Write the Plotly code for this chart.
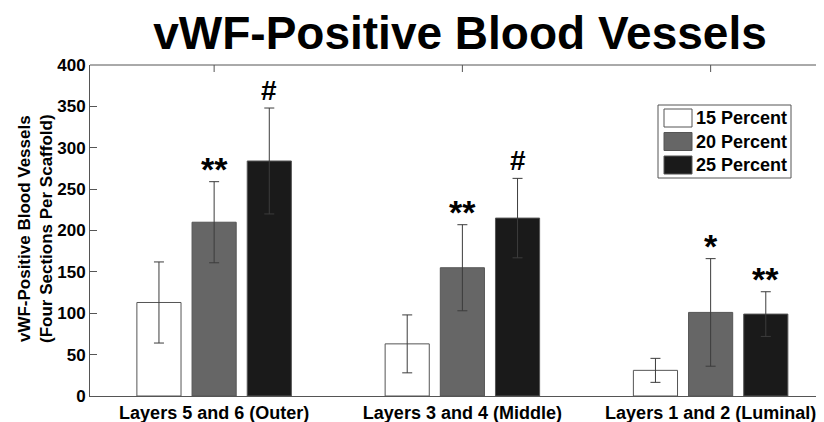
import plotly.graph_objects as go

categories = ["Layers 5 and 6 (Outer)", "Layers 3 and 4 (Middle)", "Layers 1 and 2 (Luminal)"]
series_names = ["15 Percent", "20 Percent", "25 Percent"]
vals_15 = [113, 63, 31]
vals_20 = [210, 155, 101]
vals_25 = [284, 215, 99]
err_15 = [49, 35, 14.5]
err_20 = [49, 52, 65]
err_25 = [64, 48, 27]
sig_15 = ["", "", ""]
sig_20 = ["**", "**", "*"]
sig_25 = ["#", "#", "**"]
y_ticks = [0, 50, 100, 150, 200, 250, 300, 350, 400]

fills = ["#ffffff", "#666666", "#1a1a1a"]
OFF = 8  # page body margin
W, H = 824 - OFF, 422 - OFF
ML, MT, MB = 90 - OFF, 65 - OFF, 26
FONT = "Liberation Sans, Arial, sans-serif"

fig = go.Figure()
all_vals = [vals_15, vals_20, vals_25]
all_errs = [err_15, err_20, err_25]
all_sigs = [sig_15, sig_20, sig_25]
for name, v, e, c in zip(series_names, all_vals, all_errs, fills):
    fig.add_trace(go.Bar(
        x=categories, y=v, name=name,
        marker=dict(color=c, line=dict(color="#555555", width=1)),
        error_y=dict(type="data", array=e, visible=True, color="#3c3c3c", thickness=1, width=5),
        showlegend=False,
    ))

# significance markers
slot = 2 / 9  # width of one bar slot in category units
for j, (v, e, s) in enumerate(zip(all_vals, all_errs, all_sigs)):
    for i in range(len(categories)):
        if s[i]:
            star = "*" in s[i]
            fig.add_annotation(
                x=i + (j - 1) * slot, y=v[i] + e[i], xref="x", yref="y",
                text="<b>" + s[i] + "</b>", showarrow=False,
                yanchor="bottom", yshift=(-8 if star else 0),
                font=dict(family=FONT, size=(34 if star else 28), color="black"),
            )

pw = W - ML
ph = H - MT - MB
def px(x):
    return (x - OFF - ML) / pw
def py(y):
    return (H + OFF - MB - y) / ph

shapes = []
# top border line and top ticks
shapes.append(dict(type="line", xref="paper", yref="paper", x0=0, x1=1, y0=1, y1=1,
                   line=dict(color="#555555", width=1)))
for i in range(len(categories)):
    shapes.append(dict(type="line", xref="x", yref="paper", x0=i, x1=i,
                       y0=1, y1=1 - 7 / ph, line=dict(color="#555555", width=1)))

# custom legend
shapes.append(dict(type="rect", xref="paper", yref="paper",
                   x0=px(658), x1=px(791), y0=py(178), y1=py(105),
                   line=dict(color="#555555", width=1), fillcolor="white", layer="above"))
row_c = [118, 141.5, 165]
for k, (name, c) in enumerate(zip(series_names, fills)):
    shapes.append(dict(type="rect", xref="paper", yref="paper",
                       x0=px(664), x1=px(692), y0=py(row_c[k] + 9), y1=py(row_c[k] - 9),
                       line=dict(color="#555555", width=1), fillcolor=c, layer="above"))
    fig.add_annotation(x=px(694), y=py(row_c[k]), xref="paper", yref="paper",
                       text="<b>" + name + "</b>", showarrow=False,
                       xanchor="left", yanchor="middle",
                       font=dict(family=FONT, size=18, color="black"))

# y-axis title
fig.add_annotation(x=px(35), y=py(229), xref="paper", yref="paper",
                   text="<b>vWF-Positive Blood Vessels<br>(Four Sections Per Scaffold)</b>",
                   showarrow=False, textangle=-90, xanchor="center", yanchor="middle",
                   font=dict(family=FONT, size=17, color="black"))

fig.update_layout(
    width=W, height=H,
    margin=dict(l=ML, r=0, t=MT, b=MB, autoexpand=False),
    paper_bgcolor="white", plot_bgcolor="white",
    barmode="group", bargap=1/3, bargroupgap=0.2,
    shapes=shapes,
    title=dict(text="<b>vWF-Positive Blood Vessels</b>", x=(460 - OFF) / W, xanchor="center",
               y=1 - (33 - OFF) / H, yanchor="middle",
               font=dict(family=FONT, size=46, color="black")),
    font=dict(family=FONT, color="black"),
)
fig.update_xaxes(
    range=[-0.5, -0.5 + pw / 248.25], showgrid=False, zeroline=False,
    showline=True, linecolor="#555555", linewidth=1, ticks="",
    tickfont=dict(family=FONT, size=18, color="black", weight="bold"),
)
fig.update_yaxes(
    range=[0, 400], tickvals=y_ticks, showgrid=False, zeroline=False,
    showline=True, linecolor="#555555", linewidth=1,
    ticks="inside", ticklen=7, tickcolor="#555555",
    tickfont=dict(family=FONT, size=17, color="black", weight="bold"),
)

fig.write_html("out.html")
